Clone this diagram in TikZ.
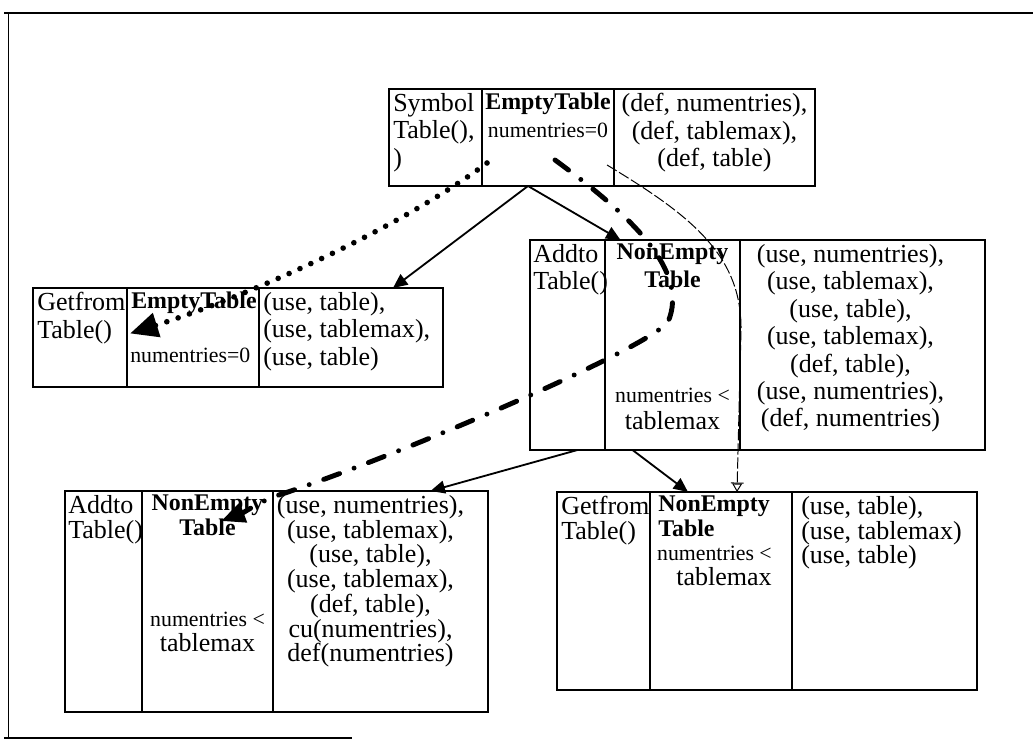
\documentclass[tikz,border=0pt]{standalone}
\usepackage{fontspec}
\setmainfont{Liberation Serif}
\usetikzlibrary{positioning,calc,arrows.meta}
\newcommand{\numf}{\fontsize{15.5}{18}\selectfont}
\newcommand{\boldf}{\fontsize{17}{18}\selectfont\bfseries}

\begin{document}
\begin{tikzpicture}[
        x=0.025cm, y=-0.025cm,
        >={Triangle[length=3.6mm,width=3.2mm]},
        cell/.style 2 args={rectangle, draw, line width=1.6pt, inner sep=0pt, outer sep=0pt, anchor=north west, minimum width=#1*0.025cm, minimum height=#2*0.025cm},
        txt/.style={inner sep=0pt, font=\fontsize{18.5}{19.5}\selectfont},
        tight/.style={inner sep=0pt, font=\fontsize{18.5}{17.6}\selectfont},
        flow/.style={->, line width=1.3pt},
        dotflow/.style={line width=4pt, line cap=round, dash pattern=on 0pt off 8.5pt, -{Triangle[length=7mm,width=6mm]}},
        dashflow/.style={line width=3.5pt, line cap=round, dash pattern=on 12pt off 11pt on 0pt off 11pt, -{Triangle[length=6mm,width=5mm]}},
        thinflow/.style={line width=0.7pt, dash pattern=on 8pt off 2pt, -{Bar[width=9pt]Triangle[open,length=6pt,width=7pt]}}
    ]
    \useasboundingbox (0,0) rectangle (1033,747);

    % Frame
    \draw[line width=1.2pt] (4,13) -- (1033,13);
    \draw[line width=0.6pt] (8,13) -- (8,738);
    \draw[line width=1pt] (4,738) -- (352,738);

    % SymbolTable()
    \node[cell={93}{97}] (symA) at (389,89) {};
    \node[cell={132}{97}, right=0pt of symA] (symB) {};
    \node[cell={201}{97}, right=0pt of symB] (symC) {};
    \node[txt, anchor=north west, align=left] (symAt) at ($(symA.north west)+(4,4)$) {Symbol\\Table(),\\)};
    \node[txt, anchor=north, align=center] (symBt) at ($(symB.north)+(0,4)$) {{\boldf EmptyTable}\\{\numf numentries=0}};
    \node[txt, anchor=north, align=center] (symCt) at ($(symC.north)+(0,4)$) {(def, numentries),\\(def, tablemax),\\(def, table)};

    % GetfromTable() on EmptyTable
    \node[cell={94}{99}] (getA) at (33,288) {};
    \node[cell={132}{99}, right=0pt of getA] (getB) {};
    \node[cell={184}{99}, right=0pt of getB] (getC) {};
    \node[txt, anchor=north west, align=left] (getAt) at ($(getA.north west)+(4,4)$) {Getfrom\\Table()};
    \node[txt, anchor=north west] (getBt) at ($(getB.north west)+(4,4)$) {\boldf EmptyTable};
    \node[txt, anchor=west] (getBn) at ($(getB.west)+(3,18)$) {\numf numentries=0};
    \node[txt, anchor=north west, align=left] (getCt) at ($(getC.north west)+(4,4)$) {(use, table),\\(use, tablemax),\\(use, table)};

    % AddtoTable() on NonEmptyTable
    \node[cell={75}{210}] (addA) at (530,240) {};
    \node[cell={135}{210}, right=0pt of addA] (addB) {};
    \node[cell={245}{210}, right=0pt of addB] (addC) {};
    \node[txt, anchor=north west, align=left] (addAt) at ($(addA.north west)+(3,4)$) {Addto\\Table()};
    \node[txt, anchor=north, align=center] (addBt) at ($(addB.north)+(0,4)$) {{\boldf NonEmpty}\\{\boldf Table}};
    \node[txt, anchor=south, align=center] (addBn) at ($(addB.south)+(0,-20)$) {{\numf numentries <}\\tablemax};
    \node[txt, anchor=north, align=center] (addCt) at ($(addC.north)+(-12,4)$) {(use, numentries),\\(use, tablemax),\\(use, table),\\(use, tablemax),\\(def, table),\\(use, numentries),\\(def, numentries)};

    % AddtoTable() again
    \node[cell={77}{221}] (add2A) at (65,491) {};
    \node[cell={131}{221}, right=0pt of add2A] (add2B) {};
    \node[cell={215}{221}, right=0pt of add2B] (add2C) {};
    \node[tight, anchor=north west, align=left] (add2At) at ($(add2A.north west)+(3,4)$) {Addto\\Table()};
    \node[tight, anchor=north, align=center] (add2Bt) at ($(add2B.north)+(0,4)$) {{\boldf NonEmpty}\\{\boldf Table}};
    \node[tight, anchor=south, align=center] (add2Bn) at ($(add2B.south)+(0,-60)$) {{\numf numentries <}\\tablemax};
    \node[tight, anchor=north, align=center] (add2Ct) at ($(add2C.north)+(-10,4)$) {(use, numentries),\\(use, tablemax),\\(use, table),\\(use, tablemax),\\(def, table),\\cu(numentries),\\def(numentries)};

    % GetfromTable() on NonEmptyTable
    \node[cell={93}{198}] (get2A) at (557,492) {};
    \node[cell={142}{198}, right=0pt of get2A] (get2B) {};
    \node[cell={185}{198}, right=0pt of get2B] (get2C) {};
    \node[tight, anchor=north west, align=left] (get2At) at ($(get2A.north west)+(4,4)$) {Getfrom\\Table()};
    \node[tight, anchor=north west, align=left] (get2Bt) at ($(get2B.north west)+(8,4)$) {{\boldf NonEmpty}\\{\boldf Table}};
    \node[tight, anchor=north east, align=right] (get2Bn) at ($(get2B.north east)+(-20,54)$) {{\numf numentries <}\\tablemax};
    \node[tight, anchor=north west, align=left] (get2Ct) at ($(get2C.north west)+(9,4)$) {(use, table),\\(use, tablemax)\\(use, table)};

    % Calls
    \draw[flow] ($(symB.south)+(-20,0)$) -- ($(getC.north)+(42,0)$);
    \draw[flow] ($(symB.south)+(-20,0)$) -- ($(addB.north)+(-52,0)$);
    \draw[flow] ($(addA.south)+(10,0)$) -- ($(add2C.north)+(50,0)$);
    \draw[flow] ($(addB.south)+(-40,0)$) -- ($(get2B.north)+(-33,0)$);

    % Data flows
    \draw[dotflow] ($(symB.south west)+(5,-23)$) .. controls +(-87,65) and +(120,-38) .. ($(getB.west)+(3,-4)$);
    \draw[dashflow] ($(symB.south west)+(73,-26)$) .. controls (630,215) and (690,270) .. (668,322)
        .. controls (645,350) and (400,455) .. (282,494)
        .. controls (262,500) and (245,512) .. ($(add2B.north east)+(-52,30)$);
    \draw[thinflow] ($(symB.south east)+(-7,-21)$) .. controls (690,215) and (742,255) .. ($(addC.west)+(1,-15)$) -- ($(get2B.north)+(16,0)$);

\end{tikzpicture}
\end{document}
